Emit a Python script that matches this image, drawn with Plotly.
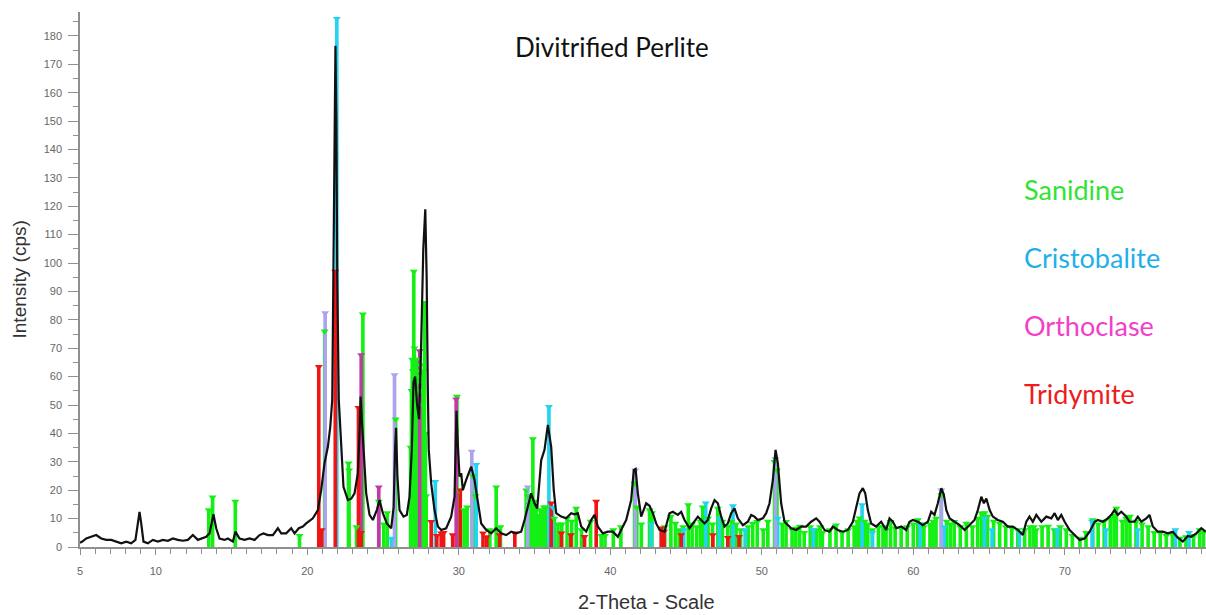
import plotly.graph_objects as go

# Measured diffraction pattern (2-theta in degrees, intensity in cps)
two_theta = [
    5.00, 5.15, 5.41, 5.74, 6.07, 6.40, 6.73, 7.06, 7.39, 7.72, 8.05, 8.38, 8.66, 8.82, 8.93, 9.04,
    9.19, 9.48, 9.81, 10.14, 10.47, 10.80, 11.13, 11.46, 11.79, 12.12, 12.45, 12.78, 13.11, 13.33,
    13.55, 13.73, 13.81, 13.99, 14.21, 14.54, 14.76, 15.09, 15.26, 15.53, 15.86, 16.19, 16.52, 16.85,
    17.11, 17.40, 17.73, 18.06, 18.28, 18.61, 18.94, 19.16, 19.44, 19.71, 19.93, 20.37, 20.70, 20.92,
    21.14, 21.36, 21.52, 21.65, 21.74, 21.80, 21.86, 21.92, 21.98, 22.08, 22.24, 22.39, 22.68, 22.90,
    23.12, 23.34, 23.45, 23.52, 23.60, 23.71, 23.89, 24.11, 24.33, 24.59, 24.77, 24.99, 25.25, 25.54,
    25.70, 25.80, 25.86, 25.95, 26.09, 26.35, 26.57, 26.75, 26.90, 27.01, 27.12, 27.25, 27.38, 27.52,
    27.66, 27.79, 27.88, 27.96, 28.02, 28.18, 28.40, 28.62, 28.84, 29.17, 29.50, 29.72, 29.85, 29.95,
    30.05, 30.16, 30.27, 30.49, 30.82, 31.04, 31.26, 31.48, 31.81, 32.14, 32.47, 32.80, 33.13, 33.46,
    33.79, 34.12, 34.34, 34.56, 34.78, 35.00, 35.18, 35.44, 35.66, 35.88, 36.10, 36.27, 36.43, 36.76,
    37.09, 37.42, 37.64, 37.86, 38.08, 38.41, 38.74, 38.96, 39.18, 39.51, 39.84, 40.17, 40.50, 40.83,
    41.05, 41.38, 41.55, 41.67, 41.82, 42.04, 42.37, 42.59, 42.81, 43.03, 43.25, 43.58, 43.91, 44.13,
    44.46, 44.68, 44.90, 45.23, 45.56, 45.78, 46.00, 46.22, 46.44, 46.66, 46.88, 47.10, 47.32, 47.54,
    47.76, 47.98, 48.20, 48.42, 48.75, 49.08, 49.30, 49.52, 49.74, 50.07, 50.29, 50.51, 50.73, 50.91,
    51.06, 51.28, 51.50, 51.72, 51.94, 52.27, 52.60, 52.93, 53.26, 53.59, 53.81, 54.14, 54.47, 54.69,
    55.02, 55.35, 55.68, 56.01, 56.23, 56.45, 56.67, 56.83, 57.00, 57.22, 57.55, 57.88, 58.21, 58.43,
    58.65, 58.88, 59.21, 59.53, 59.75, 59.97, 60.30, 60.63, 60.96, 61.18, 61.40, 61.62, 61.85, 62.02,
    62.18, 62.40, 62.73, 63.06, 63.39, 63.72, 64.04, 64.26, 64.49, 64.66, 64.82, 65.04, 65.25, 65.58,
    65.91, 66.24, 66.57, 66.90, 67.23, 67.46, 67.67, 67.89, 68.12, 68.45, 68.78, 69.11, 69.33, 69.54,
    69.77, 69.99, 70.32, 70.65, 70.98, 71.31, 71.64, 71.97, 72.18, 72.51, 72.84, 73.07, 73.28, 73.50,
    73.73, 74.06, 74.27, 74.60, 74.82, 75.05, 75.38, 75.59, 75.81, 76.14, 76.47, 76.80, 77.13, 77.46,
    77.79, 78.12, 78.35, 78.68, 79.01, 79.29,
]
intensity = [
    1.5, 1.9, 3.0, 3.6, 4.2, 3.0, 2.5, 2.5, 1.9, 1.3, 1.9, 1.3, 2.5, 8.3, 12.4, 8.3,
    1.9, 1.3, 2.5, 1.9, 2.5, 2.2, 3.0, 2.5, 2.2, 2.5, 4.2, 2.5, 3.0, 3.6,
    4.8, 9.5, 11.5, 6.6, 3.0, 2.5, 3.0, 1.9, 5.4, 3.0, 2.5, 3.0, 2.5, 4.2,
    4.8, 4.2, 4.2, 6.6, 4.8, 4.8, 6.6, 4.8, 6.6, 7.2, 8.3, 10.1, 13.0, 20.0,
    29.5, 35.3, 42.4, 52.0, 100.0, 150.0, 176.5, 150.0, 95.0, 52.0, 34.2, 21.2, 16.5, 17.0,
    18.9, 26.0, 40.0, 53.0, 45.0, 34.2, 18.9, 11.3, 9.5, 13.0, 16.5, 11.9, 8.3, 6.6,
    14.0, 35.0, 42.0, 25.0, 13.0, 10.7, 11.3, 17.7, 34.2, 58.0, 60.0, 50.0, 45.0, 72.0,
    105.0, 118.9, 95.0, 55.0, 34.2, 22.4, 13.0, 7.2, 6.0, 6.6, 10.7, 17.7, 48.0, 35.0,
    24.8, 26.0, 20.0, 23.6, 28.3, 23.6, 16.5, 8.3, 6.0, 4.8, 6.6, 4.8, 4.2, 5.4,
    4.8, 5.4, 9.5, 14.2, 18.9, 15.4, 13.6, 30.6, 34.2, 43.0, 35.3, 20.0, 11.9, 10.7,
    10.1, 11.9, 11.5, 11.9, 7.2, 5.4, 9.5, 11.3, 7.2, 4.8, 5.4, 5.4, 3.6, 7.2,
    9.5, 16.5, 27.1, 27.5, 18.9, 10.7, 15.4, 14.5, 11.9, 8.3, 6.0, 5.4, 11.9, 12.4,
    11.3, 12.4, 9.5, 6.6, 8.9, 10.7, 9.5, 8.3, 9.5, 13.6, 16.5, 15.4, 10.7, 7.2,
    8.3, 11.9, 13.6, 10.1, 7.7, 8.9, 11.3, 10.7, 9.5, 10.1, 11.9, 15.4, 23.6, 34.2,
    29.5, 15.4, 8.9, 7.7, 6.6, 6.0, 7.2, 7.2, 8.9, 10.1, 8.9, 6.0, 5.4, 7.2,
    6.0, 5.4, 6.0, 8.9, 14.2, 18.9, 20.7, 18.9, 13.0, 8.3, 7.2, 8.9, 6.0, 10.1,
    8.9, 6.6, 7.2, 6.0, 8.9, 9.5, 8.9, 7.7, 8.9, 12.4, 11.3, 15.4, 20.7, 18.3,
    13.0, 10.1, 8.9, 7.7, 6.0, 7.7, 9.5, 13.0, 17.7, 15.4, 17.1, 13.0, 10.7, 9.5,
    8.9, 7.2, 7.2, 6.0, 4.2, 8.9, 10.7, 8.9, 11.3, 8.9, 10.7, 10.1, 11.9, 9.5,
    11.3, 8.9, 6.0, 4.2, 2.5, 3.0, 5.4, 8.9, 9.5, 8.9, 10.1, 11.3, 13.0, 11.3,
    12.4, 10.7, 8.9, 8.9, 10.7, 8.9, 10.1, 11.3, 7.2, 5.4, 5.4, 4.8, 5.4, 3.3,
    1.9, 3.9, 3.6, 4.8, 6.6, 5.4,
]

# Reference stick patterns of the identified phases
sanidine_pos = [
    13.50, 13.75, 15.25, 19.49, 21.15, 22.72, 22.76, 23.25, 23.67, 24.72, 25.05, 25.28, 25.83,
    26.82, 26.88, 26.93, 26.97, 27.03, 27.07, 27.12, 27.17, 27.22, 27.27, 27.32, 27.37, 27.42,
    27.47, 27.52, 27.57, 27.62, 27.67, 27.74, 27.80, 27.85,
    29.88, 30.05, 30.35, 30.55, 30.93, 31.10, 32.05, 32.47, 32.75, 34.45, 34.55, 34.65, 34.75,
    34.89, 35.00, 35.10, 35.25, 35.40, 35.50, 35.62, 35.75, 36.30, 36.55, 36.80, 37.15, 37.45,
    37.75, 38.10, 38.70, 39.40, 39.65, 40.20, 40.70, 41.60, 41.75, 42.05, 42.59, 42.75, 43.60,
    44.00, 44.30, 44.55, 44.80, 45.15, 45.40, 45.70, 45.95, 46.10, 46.45, 46.75, 47.10, 47.40,
    47.75, 48.00, 48.30, 48.60, 49.10, 49.40, 49.70, 50.10, 50.40, 50.84, 51.00, 51.35, 51.60,
    52.00, 52.25, 52.50, 52.80, 53.20, 53.60, 53.85, 54.00, 54.50, 54.90, 55.30, 55.70, 56.10,
    56.30, 56.45, 56.80, 57.00, 57.30, 57.70, 58.00, 58.20, 58.50, 58.80, 59.20, 59.60, 60.00,
    60.30, 60.50, 60.70, 61.10, 61.30, 61.50, 61.85, 62.20, 62.45, 62.70, 63.10, 63.50, 63.90,
    64.25, 64.50, 64.70, 64.90, 65.30, 65.70, 66.10, 66.50, 66.90, 67.35, 67.70, 67.95, 68.10,
    68.50, 68.90, 69.30, 69.70, 70.10, 70.50, 71.00, 71.40, 71.85, 72.20, 72.60, 73.00, 73.25,
    73.40, 73.80, 74.05, 74.30, 74.70, 75.10, 75.50, 75.90, 76.30, 76.70, 77.10, 77.60, 78.00,
    78.50, 78.90, 79.15,
]
sanidine_int = [
    13.0, 17.5, 16.0, 4.0, 76.0, 29.5, 27.0, 7.0, 82.0, 16.0, 8.0, 12.0, 45.0,
    35.0, 55.0, 66.0, 62.0, 97.0, 70.0, 64.0, 58.0, 66.0, 62.0, 60.0, 55.0, 58.0,
    64.0, 60.0, 55.0, 50.0, 62.0, 86.0, 40.0, 18.0,
    53.0, 20.0, 13.0, 14.0, 25.0, 18.0, 6.0, 21.0, 7.0, 20.0, 18.0, 15.0, 16.0,
    38.0, 16.0, 13.0, 11.0, 13.0, 12.0, 14.0, 14.0, 10.0, 8.0, 8.0, 10.0, 9.0,
    13.6, 6.0, 9.0, 4.0, 4.0, 6.0, 7.0, 22.4, 14.0, 8.0, 13.0, 12.0, 7.0,
    10.7, 8.3, 6.0, 7.0, 14.8, 8.0, 7.0, 9.0, 14.0, 10.0, 8.0, 13.6, 9.0,
    7.2, 9.0, 8.0, 6.0, 7.0, 8.3, 8.9, 6.0, 9.0, 30.0, 27.0, 8.0, 8.9,
    6.0, 6.5, 7.2, 5.0, 7.0, 6.0, 7.0, 5.0, 6.0, 7.7, 5.0, 6.0, 7.0,
    9.0, 10.1, 9.0, 8.0, 6.0, 7.0, 7.0, 6.0, 8.9, 6.6, 6.6, 7.0, 8.0,
    9.5, 8.0, 7.0, 8.0, 9.0, 10.0, 18.3, 9.0, 8.0, 8.9, 7.0, 8.3, 7.0,
    10.0, 11.9, 12.0, 10.7, 9.0, 8.3, 7.0, 6.6, 6.0, 6.0, 7.0, 7.0, 6.0,
    7.0, 7.2, 6.0, 7.0, 6.0, 4.0, 3.0, 5.0, 9.5, 8.0, 9.0, 10.0, 11.0,
    13.6, 9.0, 10.0, 10.7, 9.0, 8.0, 7.0, 5.0, 4.8, 4.0, 4.5, 3.0, 3.5,
    4.0, 6.0, 5.0,
]

cristobalite_pos = [
    21.95, 25.55, 28.45, 31.15, 35.95, 36.20, 42.70, 44.85, 46.30, 47.20, 48.10, 48.90, 51.05,
    53.40, 56.62, 57.30, 60.45, 62.05, 64.70, 65.20, 67.00, 69.50, 71.80, 72.70, 74.80, 77.30,
    78.20,
]
cristobalite_int = [
    186.0, 3.0, 23.0, 29.0, 49.4, 14.0, 8.0, 6.0, 15.4, 10.0, 14.4, 6.0, 10.0,
    6.0, 14.8, 5.0, 8.0, 7.0, 10.0, 6.0, 5.0, 6.0, 9.0, 6.0, 6.0, 6.0,
    5.0,
]

orthoclase_pos = [23.56, 24.72, 27.42, 29.83]
orthoclase_int = [67.6, 21.0, 69.0, 52.0]

tridymite_pos = [
    20.76, 20.95, 21.85, 23.38, 23.55, 28.18, 28.55, 28.84, 29.00, 29.60, 30.10, 31.60, 31.85,
    32.70, 33.70, 36.10, 36.77, 37.40, 38.30, 39.07, 43.36, 43.55, 44.68, 46.77, 47.76, 48.50,
]
tridymite_int = [
    63.5, 6.0, 97.0, 49.0, 5.0, 8.9, 4.0, 4.8, 5.0, 4.2, 20.0, 4.8, 3.5,
    4.2, 4.8, 15.4, 4.8, 4.2, 3.6, 16.0, 6.6, 5.5, 4.2, 4.2, 3.3, 3.6,
]

# Additional reflections shown in a pale violet
violet_pos = [21.18, 25.76, 30.86, 34.55, 41.65, 50.90, 61.85]
violet_int = [82.4, 60.6, 33.6, 21.0, 27.0, 31.0, 20.0]

# Legend entries drawn as coloured labels on the right
legend_names = ["Sanidine", "Cristobalite", "Orthoclase", "Tridymite"]
legend_colors = ["#33e333", "#1fb0e8", "#f23ec8", "#ee1c1c"]

x_ticks = [5, 10, 20, 30, 40, 50, 60, 70]
y_ticks = list(range(0, 181, 10))

phases = [
    (sanidine_pos, sanidine_int, "#14f014"),
    (cristobalite_pos, cristobalite_int, "#22d4f2"),
    (violet_pos, violet_int, "#aaa4f0"),
    (orthoclase_pos, orthoclase_int, "#c23aa8"),
    (tridymite_pos, tridymite_int, "#f01414"),
]

fig = go.Figure()

for pos, inten, color in phases:
    fig.add_trace(go.Bar(
        x=pos, y=inten, width=0.24,
        marker=dict(color=color, line=dict(width=0)),
        showlegend=False, hoverinfo="skip",
    ))

for pos, inten, color in phases:
    fig.add_trace(go.Scatter(
        x=pos, y=inten, mode="markers",
        marker=dict(symbol="triangle-down", size=7, color=color, line=dict(width=0)),
        showlegend=False, hoverinfo="skip",
    ))

fig.add_trace(go.Scatter(
    x=two_theta, y=intensity, mode="lines",
    line=dict(color="#111111", width=2.2),
    showlegend=False,
))

axis_grey = "#8f8f8f"
tick_font = dict(family="Arial, Liberation Sans, sans-serif", size=11, color="#666666")

fig.update_layout(
    width=1206, height=615,
    margin=dict(l=80, r=0, t=12, b=68),
    paper_bgcolor="white", plot_bgcolor="white",
    barmode="overlay",
    xaxis=dict(
        range=[5, 79.32],
        tickvals=x_ticks, ticktext=[str(v) for v in x_ticks],
        showline=True, linecolor=axis_grey, linewidth=1.5,
        ticks="outside", ticklen=6, tickcolor=axis_grey, tickwidth=1,
        minor=dict(dtick=1, ticks="outside", ticklen=5, tickcolor=axis_grey),
        ticklabelstandoff=7,
        showgrid=False, zeroline=False,
        tickfont=tick_font,
    ),
    yaxis=dict(
        range=[0, 188.4],
        tickvals=y_ticks, ticktext=[str(v) for v in y_ticks],
        showline=True, linecolor=axis_grey, linewidth=1.5,
        ticks="outside", ticklen=10, tickcolor=axis_grey, tickwidth=1,
        minor=dict(dtick=5, ticks="outside", ticklen=5, tickcolor=axis_grey),
        ticklabelstandoff=4,
        showgrid=False, zeroline=False,
        tickfont=tick_font,
    ),
)

annotations = [
    dict(text="Divitrified Perlite", x=0.4725, y=0.9346, xref="paper", yref="paper",
         xanchor="center", yanchor="middle", showarrow=False,
         font=dict(family="Lato, Open Sans, sans-serif", size=26, color="#111111")),
    dict(text="Intensity (cps)", x=-0.0533, y=0.5, xref="paper", yref="paper",
         xanchor="center", yanchor="middle", textangle=-90, showarrow=False,
         font=dict(family="Arial, Liberation Sans, sans-serif", size=19, color="#333333")),
    dict(text="2-Theta - Scale", x=0.503, y=-0.1028, xref="paper", yref="paper",
         xanchor="center", yanchor="middle", showarrow=False,
         font=dict(family="Arial, Liberation Sans, sans-serif", size=20, color="#333333")),
]
legend_y = [0.6673, 0.5402, 0.4131, 0.2860]
for name, color, ly in zip(legend_names, legend_colors, legend_y):
    annotations.append(dict(
        text=name, x=0.8366, y=ly, xref="paper", yref="paper",
        xanchor="left", yanchor="middle", showarrow=False,
        font=dict(family="Lato, Open Sans, sans-serif", size=27, color=color),
    ))
fig.update_layout(annotations=annotations)

fig.write_html("out.html")
